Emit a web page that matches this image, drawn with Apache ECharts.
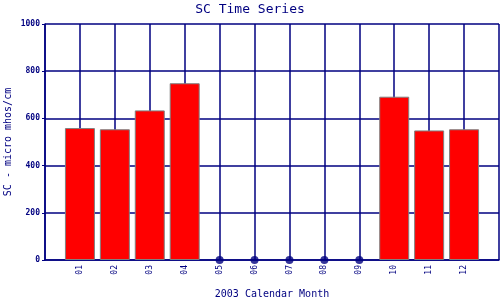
<!DOCTYPE html>
<html>
<head>
<meta charset="utf-8">
<script src="https://cdn.jsdelivr.net/npm/echarts@6/dist/echarts.min.js"></script>
<style>
  html, body { margin: 0; padding: 0; background: #fff; }
  #chart { width: 500px; height: 300px; }
</style>
</head>
<body>
<div id="chart"></div>
<script>
// monthly specific conductance, null = no sample that month
const months = [1, 2, 3, 4, 5, 6, 7, 8, 9, 10, 11, 12];
const scValues = [559, 554, 634, 749, null, null, null, null, null, 692, 549, 554];
const yTicks = [0, 200, 400, 600, 800, 1000];

const navy = "#000080";
const mono = "DejaVu Sans Mono";

const barData = months.map((m, i) => [m, scValues[i]]).filter((d) => d[1] !== null);
const missingData = months.filter((m, i) => scValues[i] === null).map((m) => [m, 0]);

const chart = echarts.init(document.getElementById("chart"));
chart.setOption({
  animation: false,
  title: {
    text: "SC Time Series",
    left: "center",
    top: 3,
    padding: 0,
    textStyle: { fontFamily: mono, fontSize: 13, fontWeight: "normal", color: navy },
  },
  grid: { left: 45, right: 1, top: 24, bottom: 40, containLabel: false, outerBoundsMode: "none" },
  xAxis: {
    type: "value",
    min: 0,
    max: 13,
    interval: 1,
    name: "2003 Calendar Month",
    nameLocation: "middle",
    nameGap: 29,
    nameMoveOverlap: false,
    nameTextStyle: { fontFamily: mono, fontSize: 10, color: navy },
    axisLine: { lineStyle: { color: navy, width: 1.5 } },
    axisTick: { show: false },
    axisLabel: {
      rotate: 90,
      margin: 5,
      fontFamily: mono,
      fontSize: 8,
      color: navy,
      formatter: (v) => (v >= 1 && v <= 12 ? String(v).padStart(2, "0") : ""),
    },
    splitLine: { show: true, lineStyle: { color: navy, width: 1.5 } },
  },
  yAxis: {
    type: "value",
    min: yTicks[0],
    max: yTicks[yTicks.length - 1],
    interval: 200,
    name: "SC - micro mhos/cm",
    nameLocation: "middle",
    nameGap: 32,
    nameMoveOverlap: false,
    nameTextStyle: { fontFamily: mono, fontSize: 10, color: navy },
    axisLine: { show: true, lineStyle: { color: navy, width: 1.5 } },
    axisTick: { show: true, length: 3, lineStyle: { color: navy } },
    axisLabel: {
      fontFamily: mono,
      fontSize: 8,
      fontWeight: "bold",
      color: navy,
      margin: 5,
      formatter: (v) => String(v),
    },
    splitLine: { show: true, lineStyle: { color: navy, width: 1.5 } },
  },
  series: [
    {
      type: "bar",
      data: barData,
      barWidth: 30,
      itemStyle: { color: "#ff0000", borderColor: "#808080", borderWidth: 1 },
    },
    {
      type: "scatter",
      data: missingData,
      symbol: "circle",
      symbolSize: 8,
      itemStyle: { color: navy },
    },
  ],
});
</script>
</body>
</html>
